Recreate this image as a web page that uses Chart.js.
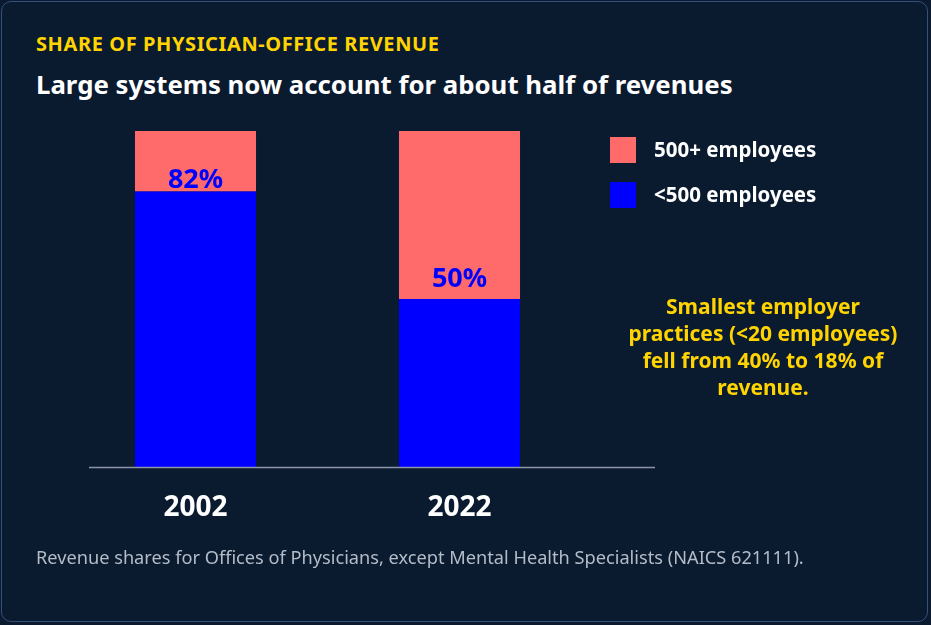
<!DOCTYPE html>
<html><head><meta charset="utf-8">
<script src="https://cdn.jsdelivr.net/npm/chart.js@4"></script>
<style>
html,body{margin:0;padding:0;background:#0b1a2e;font-family:"Noto Sans",sans-serif;}
#card{position:absolute;left:1px;top:1px;width:925px;height:619px;border:1.5px solid #33507a;border-radius:10px;background:#0a1a2f;overflow:hidden}
#wrap{position:absolute;left:0;top:0;width:931px;height:625px}
.t{position:absolute;white-space:nowrap}
</style></head><body>
<div id="card"></div>
<div class="t" style="left:36px;top:30px;color:#ffd400;font-weight:700;font-size:20px;letter-spacing:0.6px">SHARE OF PHYSICIAN-OFFICE REVENUE</div>
<div class="t" style="left:36px;top:66px;color:#fff;font-weight:700;font-size:25.8px">Large systems now account for about half of revenues</div>
<div id="wrap"><canvas id="c"></canvas></div>
<div class="t" style="left:610px;top:137px;width:26px;height:26px;background:#ff6b6b"></div>
<div class="t" style="left:654px;top:135px;color:#fff;font-weight:700;font-size:20.5px">500+ employees</div>
<div class="t" style="left:610px;top:182px;width:26px;height:26px;background:#0000ff"></div>
<div class="t" style="left:654px;top:180px;color:#fff;font-weight:700;font-size:20.5px">&lt;500 employees</div>
<div class="t" style="left:600px;top:293px;width:326px;text-align:center;white-space:normal;color:#ffd400;font-weight:700;font-size:21px;line-height:27px">Smallest employer<br>practices (&lt;20 employees)<br>fell from 40% to 18% of<br>revenue.</div>
<div class="t" style="left:36px;top:545px;color:#b4bcc8;font-size:18.2px">Revenue shares for Offices of Physicians, except Mental Health Specialists (NAICS 621111).</div>
<script>
const years = ["2002","2022"];
const under500 = [82,50];
const over500 = [18,50];
const labels = ["82%","50%"];
const plug = {id:'p',afterDatasetsDraw(ch){
  const ctx=ch.ctx;ctx.save();
  ctx.strokeStyle='#8a96a8';ctx.lineWidth=1.5;ctx.beginPath();
  const y=ch.chartArea.bottom;ctx.moveTo(89,y+0.5);ctx.lineTo(655,y+0.5);ctx.stroke();
  ctx.fillStyle='#0000ff';ctx.font='bold 27px "Noto Sans"';ctx.textAlign='center';ctx.textBaseline='middle';
  ch.getDatasetMeta(0).data.forEach((b,i)=>{ctx.fillText(labels[i],b.x,b.y-(i==0?11:20));});
  ctx.restore();}};
new Chart(document.getElementById('c'),{type:'bar',
 data:{labels:years,datasets:[
  {label:'<500 employees',data:under500,backgroundColor:'#0000ff',barPercentage:0.917,categoryPercentage:0.5},
  {label:'500+ employees',data:over500,backgroundColor:'#ff6b6b',barPercentage:0.917,categoryPercentage:0.5}]},
 options:{responsive:true,maintainAspectRatio:false,animation:false,
  layout:{padding:{left:63.5,right:339.5,top:131,bottom:0}},
  plugins:{legend:{display:false},tooltip:{enabled:false}},
  scales:{x:{stacked:true,grid:{display:false},border:{display:false},
     ticks:{color:'#fff',font:{size:28,weight:'bold',family:'Noto Sans'},padding:16},
     afterFit(s){s.height=158;}},
   y:{stacked:true,min:0,max:100,display:false}}},
 plugins:[plug]});
</script></body></html>
